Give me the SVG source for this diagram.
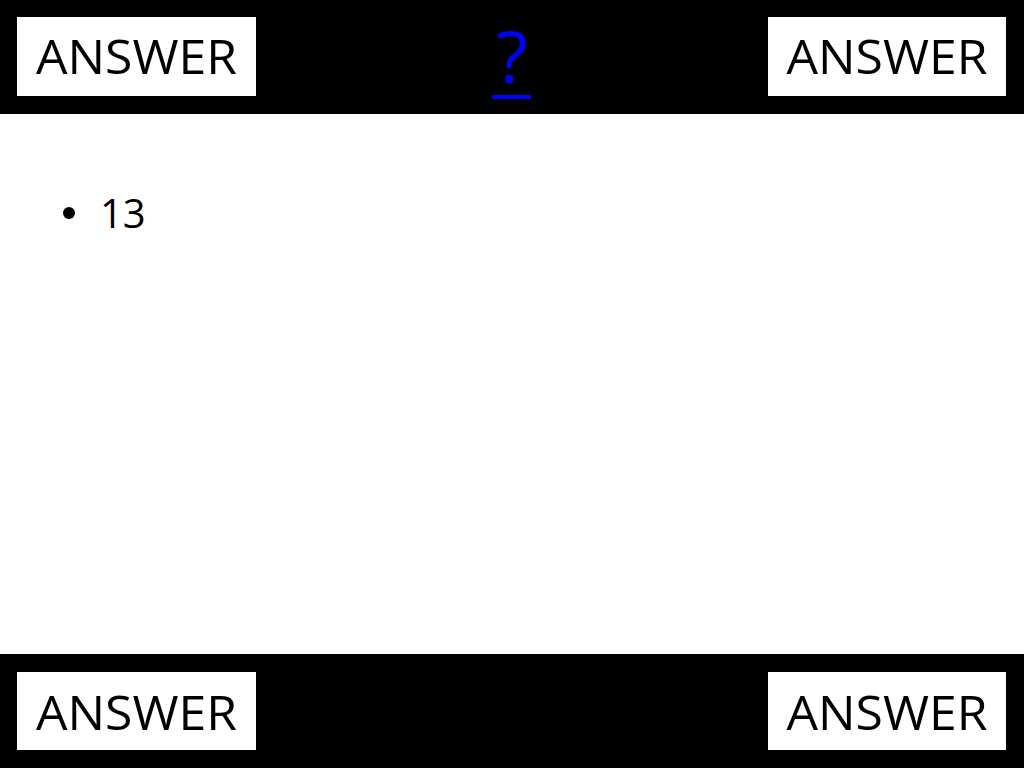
<svg xmlns="http://www.w3.org/2000/svg" width="1024" height="768" viewBox="0 0 1024 768">
<style>
.bar{fill:#000}
.box{fill:#fff}
.ans{font-family:"Open Sans","Noto Sans","Liberation Sans",sans-serif;font-size:48px;fill:#000;text-anchor:middle}
.body{font-family:"Open Sans","Noto Sans","Liberation Sans",sans-serif;font-size:40px;fill:#000}
</style>
<rect width="1024" height="768" fill="#fff"/>
<rect class="bar" x="0" y="0" width="1024" height="114"/>
<rect class="bar" x="0" y="654" width="1024" height="114"/>
<g id="answer-top-left">
<rect class="box" x="17" y="17" width="239" height="79"/>
<text class="ans" x="136.5" y="74" textLength="201" lengthAdjust="spacingAndGlyphs">ANSWER</text>
</g>
<g id="answer-top-right">
<rect class="box" x="768" y="17" width="238" height="79"/>
<text class="ans" x="887" y="74" textLength="201" lengthAdjust="spacingAndGlyphs">ANSWER</text>
</g>
<g id="answer-bottom-left">
<rect class="box" x="17" y="672" width="239" height="78"/>
<text class="ans" x="136.5" y="730" textLength="201" lengthAdjust="spacingAndGlyphs">ANSWER</text>
</g>
<g id="answer-bottom-right">
<rect class="box" x="768" y="672" width="238" height="78"/>
<text class="ans" x="887" y="730" textLength="201" lengthAdjust="spacingAndGlyphs">ANSWER</text>
</g>
<g id="question-link">
<text x="512" y="83" font-family="Open Sans, Noto Sans, Liberation Sans, sans-serif" font-size="72" fill="#0000ff" text-anchor="middle">?</text>
<rect x="492" y="95" width="39" height="4" fill="#0000ff"/>
</g>
<g id="bullet">
<circle cx="69" cy="213" r="6" fill="#000"/>
<text class="body" x="100" y="228">13</text>
</g>
</svg>
